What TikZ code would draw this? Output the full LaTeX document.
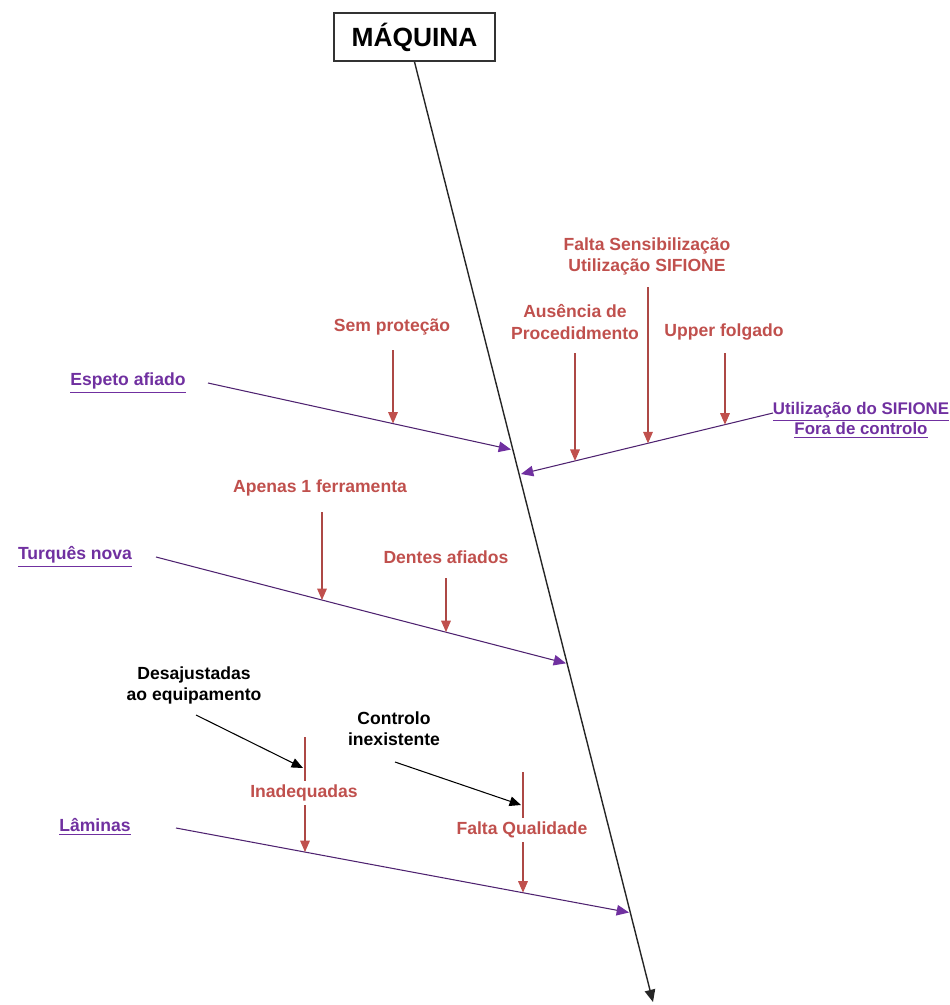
\documentclass[tikz,border=0pt]{standalone}
\usepackage{fontspec}
\setmainfont{Liberation Sans}
\usetikzlibrary{arrows.meta}
\definecolor{causered}{HTML}{C0504D}
\definecolor{causepurple}{HTML}{7030A0}
\begin{document}
\begin{tikzpicture}[x=0.02cm,y=-0.02cm,
  lbl/.style={font=\fontsize{10}{12}\selectfont\bfseries, inner sep=1pt, align=center},
  redlbl/.style={lbl, text=causered},
  blacklbl/.style={lbl, text=black},
  catlbl/.style={lbl, text=causepurple},
  spine/.style={draw=black!85, line width=0.8pt, -{Triangle[length=7pt,width=6pt]}},
  bone/.style={draw=causepurple!70!black, line width=0.6pt, -{Triangle[length=7pt,width=6pt,color=causepurple]}},
  cause/.style={draw=causered!90!black, line width=0.6pt, -{Triangle[length=6.5pt,width=5.5pt,color=causered]}},
  subcause/.style={draw=black, line width=0.6pt, -{Triangle[length=6.5pt,width=5.5pt]}}
]
\useasboundingbox (0,0) rectangle (950,1005);
\clip (0,0) rectangle (950,1005);

% effect head and spine
\node[draw=black!80, line width=1pt, minimum width=3.22cm, minimum height=0.96cm,
      font=\fontsize{15}{18}\selectfont\bfseries] (maq) at (414.5,37) {MÁQUINA};
\coordinate (spEnd) at (653,1002);
\draw[spine] (maq.south) -- (spEnd);

% branch: Espeto afiado
\node[catlbl] (espL) at (128,383) {\underline{Espeto afiado}};
\coordinate (espS) at (208,383);
\coordinate (espT) at (511,449.5);
\draw[bone] (espS) -- (espT);
\node[redlbl] (semL) at (392,327) {Sem proteção};
\coordinate (semS) at (393,350);
\coordinate (semT) at (393,423.5);
\draw[cause] (semS) -- (semT);

% branch: Utilização do SIFIONE
\node[catlbl, font=\fontsize{9.6}{11.6}\selectfont\bfseries] (sifL) at (861,420)
  {\underline{Utilização do SIFIONE}\\\underline{Fora de controlo}};
\coordinate (sifS) at (773,413);
\coordinate (sifT) at (521,474);
\draw[bone] (sifS) -- (sifT);
\node[redlbl] (ausL) at (575,322) {Ausência de\\Procedidmento};
\coordinate (ausS) at (575,353);
\coordinate (ausT) at (575,460.9);
\draw[cause] (ausS) -- (ausT);
\node[redlbl] (falL) at (647,256) {Falta Sensibilização\\Utilização SIFIONE};
\coordinate (falS) at (648,287);
\coordinate (falT) at (648,443.3);
\draw[cause] (falS) -- (falT);
\node[redlbl] (uppL) at (724,332) {Upper folgado};
\coordinate (uppS) at (725,353);
\coordinate (uppT) at (725,424.6);
\draw[cause] (uppS) -- (uppT);

% branch: Turquês nova
\node[catlbl] (turL) at (75,557) {\underline{Turquês nova}};
\coordinate (turS) at (156,557);
\coordinate (turT) at (566,663.3);
\draw[bone] (turS) -- (turT);
\node[redlbl] (apeL) at (320,488) {Apenas 1 ferramenta};
\coordinate (apeS) at (322,512);
\coordinate (apeT) at (322,600);
\draw[cause] (apeS) -- (apeT);
\node[redlbl] (denL) at (446,557) {Dentes afiados};
\coordinate (denS) at (446,578);
\coordinate (denT) at (446,632.1);
\draw[cause] (denS) -- (denT);

% branch: Lâminas
\node[catlbl] (lamL) at (95,827) {\underline{Lâminas}};
\coordinate (lamS) at (176,828);
\coordinate (lamT) at (629,912.5);
\draw[bone] (lamS) -- (lamT);

\coordinate (inaS) at (305,737);
\coordinate (inaT) at (305,852);
\draw[cause] (inaS) -- (inaT);
\node[redlbl, fill=white, inner ysep=2pt] (inaL) at (304,793) {Inadequadas};
\node[blacklbl] (desL) at (194,685) {Desajustadas\\ao equipamento};
\coordinate (desS) at (196,715);
\coordinate (desT) at (303,768);
\draw[subcause] (desS) -- (desT);

\coordinate (quaS) at (523,772);
\coordinate (quaT) at (523,892.6);
\draw[cause] (quaS) -- (quaT);
\node[redlbl, fill=white, inner ysep=2pt] (quaL) at (522,830) {Falta Qualidade};
\node[blacklbl] (conL) at (394,729) {Controlo\\inexistente};
\coordinate (conS) at (395,762);
\coordinate (conT) at (521,805);
\draw[subcause] (conS) -- (conT);
\end{tikzpicture}
\end{document}
